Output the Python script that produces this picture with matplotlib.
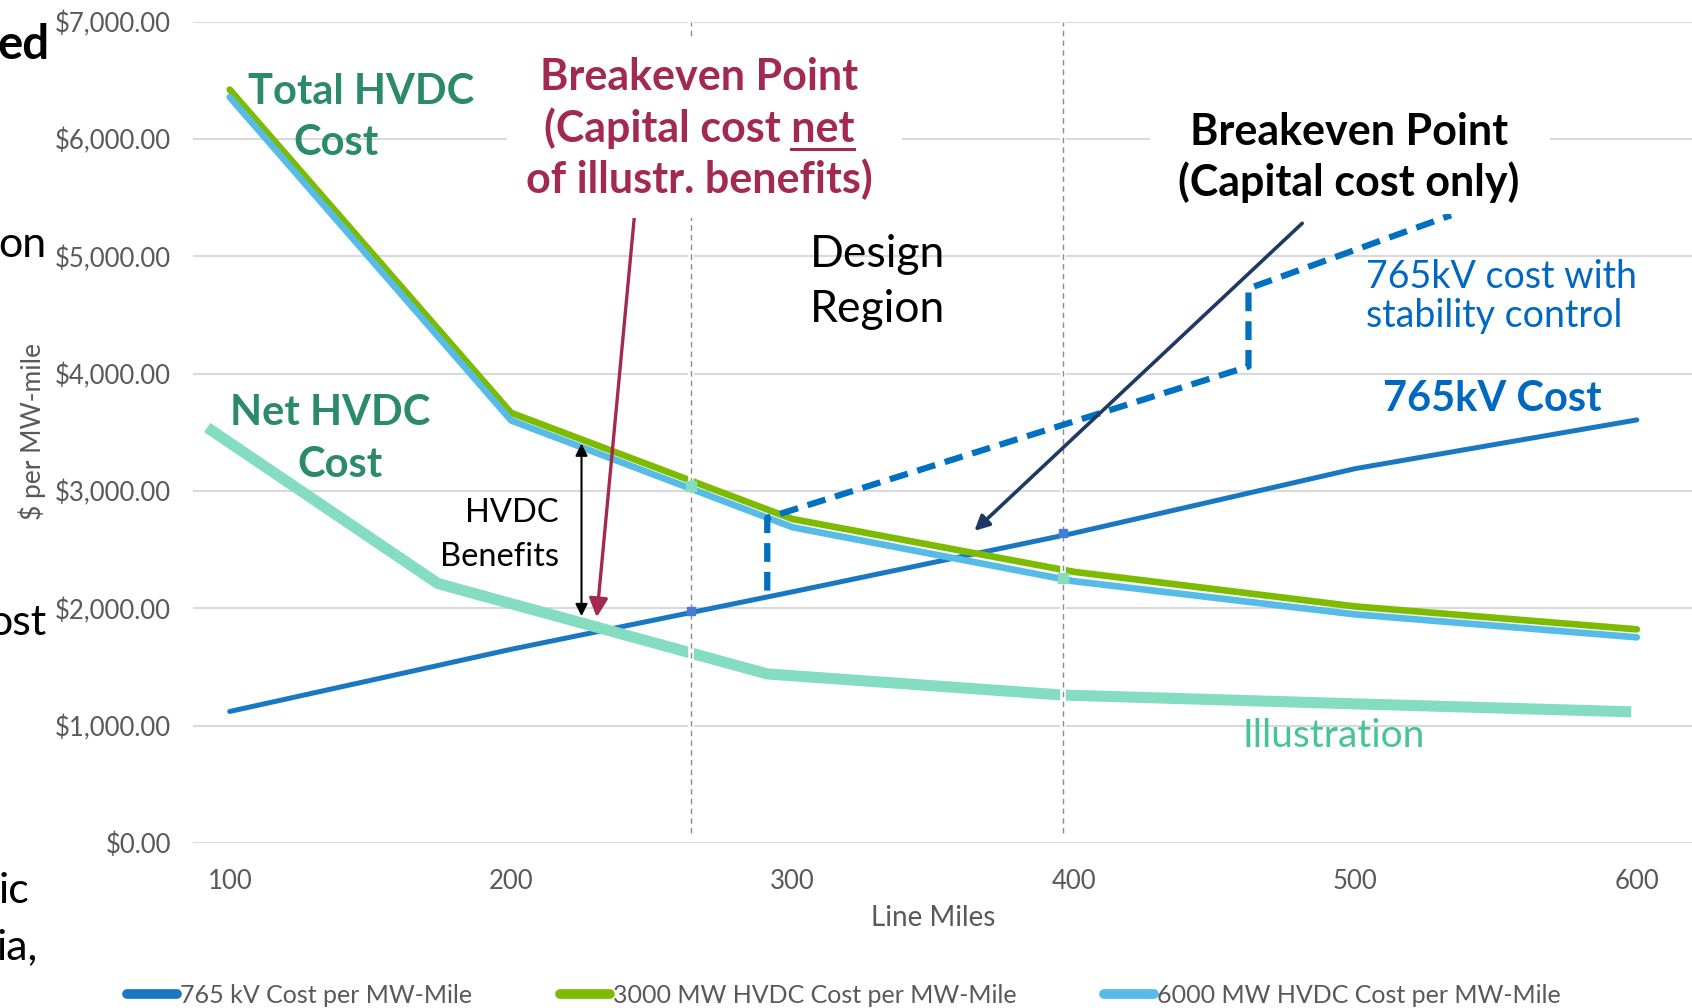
import matplotlib
matplotlib.use('Agg')
import matplotlib.pyplot as plt
from matplotlib.lines import Line2D

plt.rcParams['font.family'] = ['Lato', 'DejaVu Sans']

# values ($ per MW-mile)
miles = [100, 200, 300, 400, 500, 600]
cost_765kv = [1120, 1650, 2140, 2640, 3190, 3605]
cost_3000mw = [6420, 3665, 2760, 2310, 2015, 1820]
cost_6000mw = [6356, 3600, 2690, 2230, 1947, 1752]

# "Net HVDC Cost" illustration curve
net_miles = [92, 174, 291, 396, 500, 598]
net_hvdc = [3540, 2210, 1440, 1260, 1185, 1117]

# 765kV with stability control (dashed)
stab_miles = [291, 291, 462, 462, 534]
stab_cost = [2150, 2770, 4060, 4725, 5350]

# design region boundaries and their markers
design_miles = [264, 396]
design_765 = [1978, 2638]
design_hvdc = [3040, 2255]

legend_labels = ['765 kV Cost per MW-Mile', '3000 MW HVDC Cost per MW-Mile',
                 '6000 MW HVDC Cost per MW-Mile']

BLUE = '#1A78C2'
GREEN = '#7CBB00'
CYAN = '#56BCE5'
TEAL = '#84DCC1'
GREY = '#595959'
DARKTEAL = '#2B8A6C'
MAG = '#A2294F'
KVBLUE = '#0068C0'
NAVY = '#1F3864'


def sx(x):
    # x position read on the 1568-wide reference
    return x / 1568


def sy(y):
    return 1 - y / 934


fig = plt.figure(figsize=(16.92, 10.08), dpi=100)
ax = fig.add_axes([sx(179), sy(781), 1 - sx(179), (781 - 20) / 934])

ax.plot(miles, cost_765kv, color=BLUE, lw=3.6, solid_capstyle='round', zorder=3)
ax.plot(miles, cost_3000mw, color=GREEN, lw=4.8, solid_capstyle='round', zorder=4)
ax.plot(miles, cost_6000mw, color=CYAN, lw=4.8, solid_capstyle='round', zorder=4.1)
ax.plot(net_miles, net_hvdc, color=TEAL, lw=8, solid_capstyle='butt', zorder=5)

for m in design_miles:
    ax.plot([m, m], [80, 7000], color='white', lw=4, zorder=6)
    ax.plot([m, m], [80, 7000], color='#8C8C8C', lw=1, ls=(0, (4, 3)), zorder=6.5)
ax.plot(design_miles, design_765, 's', color='#4A7CD6', ms=6, zorder=7)
ax.plot(design_miles, design_hvdc, 's', color=TEAL, ms=7, zorder=7)

ax.plot(stab_miles, stab_cost, color='#0070C0', lw=4.5, ls=(0, (3, 1.6)),
        solid_joinstyle='miter', zorder=8)

ax.set_xlim(87, 619.6)
ax.set_ylim(0, 7000)
ax.set_xticks(miles)
ax.set_yticks(range(0, 7001, 1000))
ax.set_yticklabels(['${:,.2f}'.format(v) for v in range(0, 7001, 1000)])
ax.tick_params(length=0, labelsize=18.5, labelcolor=GREY)
ax.tick_params(axis='y', pad=16)
ax.tick_params(axis='x', pad=19)
for s in ax.spines.values():
    s.set_visible(False)
ax.yaxis.grid(True, color='#D9D9D9', lw=1.5)
ax.set_axisbelow(True)
ax.set_xlabel('Line Miles', fontsize=20, color=GREY)
ax.xaxis.set_label_coords((865 - 179) / (1568 - 179), -(851 - 781) / (781 - 20))
ax.xaxis.label.set_va('center')
fig.text(sx(30), sy(400), '$ per MW-mile', rotation=90, ha='center', va='center',
         fontsize=19, color=GREY)

# arrows
ax.annotate('', xy=(230.4, 1923), xytext=(243.8, 5345),
            arrowprops=dict(arrowstyle='-|>', color=MAG, lw=2.4, mutation_scale=28,
                            shrinkA=0, shrinkB=0), zorder=9)
ax.annotate('', xy=(225.0, 1932), xytext=(225.0, 3404),
            arrowprops=dict(arrowstyle='<|-|>', color='black', lw=1.5, mutation_scale=18,
                            shrinkA=0, shrinkB=0), zorder=9)
ax.annotate('', xy=(364.6, 2659), xytext=(481.1, 5281),
            arrowprops=dict(arrowstyle='-|>', color=NAVY, lw=2.6, mutation_scale=22,
                            shrinkA=0, shrinkB=0), zorder=9)


def label(x, y, s, size, color, weight='normal', ha='center'):
    return fig.text(sx(x), sy(y), s, fontsize=size, color=color, weight=weight,
                    ha=ha, va='baseline', zorder=10)


# white boxes behind the breakeven notes
fig.patches.append(plt.Rectangle((sx(470), sy(202)), sx(836) - sx(470), sy(37) - sy(202),
                                 transform=fig.transFigure, fc='white', ec='none', zorder=9.5))
fig.patches.append(plt.Rectangle((sx(1066), sy(198)), sx(1436) - sx(1066), sy(92) - sy(198),
                                 transform=fig.transFigure, fc='white', ec='none', zorder=9.5))

label(335, 96, 'Total HVDC', 30, DARKTEAL, 'bold')
label(311, 144, 'Cost', 30, DARKTEAL, 'bold')
label(306, 394, 'Net HVDC', 30, DARKTEAL, 'bold')
label(315, 442, 'Cost', 30, DARKTEAL, 'bold')

label(648, 83.4, 'Breakeven Point', 31, MAG, 'bold')
net_line = label(648, 131.3, '(Capital cost net', 31, MAG, 'bold')
label(648, 178.6, 'of illustr. benefits)', 31, MAG, 'bold')

label(1250, 134, 'Breakeven Point', 31, 'black', 'bold')
label(1250, 182, '(Capital cost only)', 31, 'black', 'bold')

label(813, 247, 'Design', 32, 'black')
label(813, 298, 'Region', 32, 'black')

label(1266, 267, '765kV cost with', 27, KVBLUE, ha='left')
label(1266, 303, 'stability control', 27, KVBLUE, ha='left')
label(1383, 381, '765kV Cost', 30, KVBLUE, 'bold')

label(518, 484, 'HVDC', 23.5, 'black', ha='right')
label(518, 524, 'Benefits', 23.5, 'black', ha='right')
label(1236, 692, 'Illustration', 28, '#47C39A')

# slide text cut off at the left edge
label(46, 55, 'ed', 34, 'black', 'bold', ha='right')
label(43, 238, 'on', 31, 'black', ha='right')
label(43, 588, 'ost', 31, 'black', ha='right')
label(27, 837, 'ic', 31, 'black', ha='right')
label(35, 889, 'ia,', 31, 'black', ha='right')

# underline "net"
fig.canvas.draw()
r = fig.canvas.get_renderer()
bb = net_line.get_window_extent(r)
tmp = fig.text(0, 0, 'net', fontsize=31, weight='bold')
w = tmp.get_window_extent(r).width
tmp.remove()
W = fig.bbox.width
uy = sy(138.5)
fig.add_artist(Line2D([(bb.x1 - w) / W, bb.x1 / W], [uy, uy], transform=fig.transFigure,
                      color=MAG, lw=2.2, zorder=11))

handles = [Line2D([], [], color=c, lw=7, solid_capstyle='round') for c in (BLUE, GREEN, CYAN)]
fig.legend(handles, legend_labels, loc='center', bbox_to_anchor=(sx(782), sy(922)), ncol=3,
           frameon=False, fontsize=18, handlelength=2.0, handletextpad=0.13,
           columnspacing=3.5, labelcolor=GREY)

fig.savefig('out.png', dpi=100)
